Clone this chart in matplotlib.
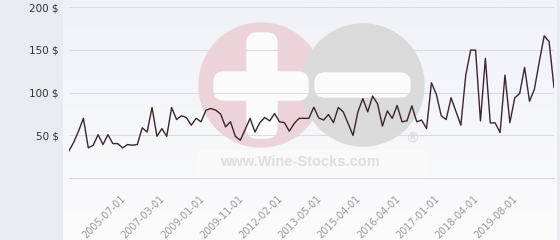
import matplotlib.pyplot as plt
import numpy as np
from matplotlib.patches import Circle, FancyBboxPatch, Rectangle

# ---------------------------
# Data
# ---------------------------
prices = [
    31.6, 41.7, 55, 70, 35.5, 38.6, 51, 39.4, 51, 40.5,
    40.5, 35.5, 39.4, 38.6, 39.5, 59, 54, 82.7, 49, 58,
    49, 82.7, 68.6, 73, 71, 62, 70, 66, 79.5, 81.5,
    79.5, 75, 60, 66, 49, 44.4, 57, 70, 54, 65,
    71, 67, 75.6, 66, 65, 55, 64, 70, 70, 70,
    83, 70.5, 68, 74.5, 65, 82.7, 77.6, 64, 50, 77.6,
    93, 77.6, 96, 87, 61, 78.7, 70, 85, 66, 67,
    84.6, 66, 68, 58, 111.5, 98, 73, 68.6, 94, 78,
    62, 120.5, 149.7, 149.7, 67, 140, 64.7, 64.7, 53.4, 120.5,
    65, 94, 99, 129.5, 90, 104, 136, 166.4, 159.6, 106,
]
date_labels = [
    "2005-07-01", "2007-03-01", "2009-01-01", "2009-11-01", "2012-02-01",
    "2013-05-01", "2015-04-01", "2016-04-01", "2017-01-01", "2018-04-01",
    "2019-08-01",
]
y_ticks = [50, 100, 150, 200]

W, H = 560, 240
fig = plt.figure(figsize=(W / 100, H / 100), dpi=100)
fig.patch.set_facecolor("#e8ecef")

# ---------------------------
# Background panel + watermark (pixel coords)
# ---------------------------
px0, px1 = 63, 557
bg = fig.add_axes([px0 / W, 0, (px1 - px0) / W, 1])
grad = np.linspace(0, 1, 100).reshape(-1, 1)
top_c = np.array([240, 242, 246]) / 255
bot_c = np.array([251, 251, 252]) / 255
img = top_c + (bot_c - top_c) * grad[:, :, None]
bg.imshow(img, extent=(px0, px1, H, 0), aspect="auto")
bg.set_xlim(px0, px1)
bg.set_ylim(H, 0)
bg.axis("off")

bg.add_patch(Rectangle((197, 150), 230, 26, color="#f9f9fa", zorder=1))
bg.add_patch(Circle((261, 85), 62, color="#ecd2d9", zorder=2))
bg.add_patch(Circle((363, 85), 61, color="#dadada", zorder=3))
bars = [(247, 33, 30, 105), (214, 72, 94, 28), (315, 73, 95, 24)]
for bx, by, bw, bh in bars:
    bg.add_patch(FancyBboxPatch((bx + 10, by + 10), bw - 20, bh - 20,
                                boxstyle="round,pad=10", color="#fbfbfb", zorder=4))
bg.text(300, 162, "www.Wine-Stocks.com", color="#dedede", fontsize=10.5,
        fontweight="bold", family="Liberation Sans", ha="center", va="center", zorder=5)
bg.text(412, 139, "\u00ae", color="#d8d8d8", fontsize=10, ha="center", va="center", zorder=5)

# ---------------------------
# Main chart
# ---------------------------
x0, x1 = 68.7, 554
y0, y1 = 178.3, 7
ax = fig.add_axes([x0 / W, (H - y0) / H, (x1 - x0) / W, (y0 - y1) / H])
ax.set_facecolor("none")

ax.plot(range(len(prices)), prices, color="#3b2530", lw=1.0, zorder=3)

ax.set_xlim(0, len(prices) - 1)
ax.set_ylim(0, 200)
ax.set_yticks(y_ticks)
ax.set_yticklabels([f"{v} $" for v in y_ticks], fontsize=7.5, color="#333333")
ax.grid(axis="y", color="#dcdcdc", lw=0.8)
ax.set_axisbelow(True)

ax.set_xticks(range(12, len(prices), 8)[:len(date_labels)])
ax.set_xticklabels(date_labels, fontsize=7, color="#9a9a9a", rotation=45, ha="right")
ax.tick_params(axis="x", length=0, pad=11)
ax.tick_params(axis="y", length=0, pad=7)

for side in ["top", "right", "left"]:
    ax.spines[side].set_visible(False)
ax.spines["bottom"].set_color("#d8d8d8")
ax.spines["bottom"].set_linewidth(0.8)

plt.savefig("out.png", dpi=100, facecolor=fig.get_facecolor())
plt.close()
